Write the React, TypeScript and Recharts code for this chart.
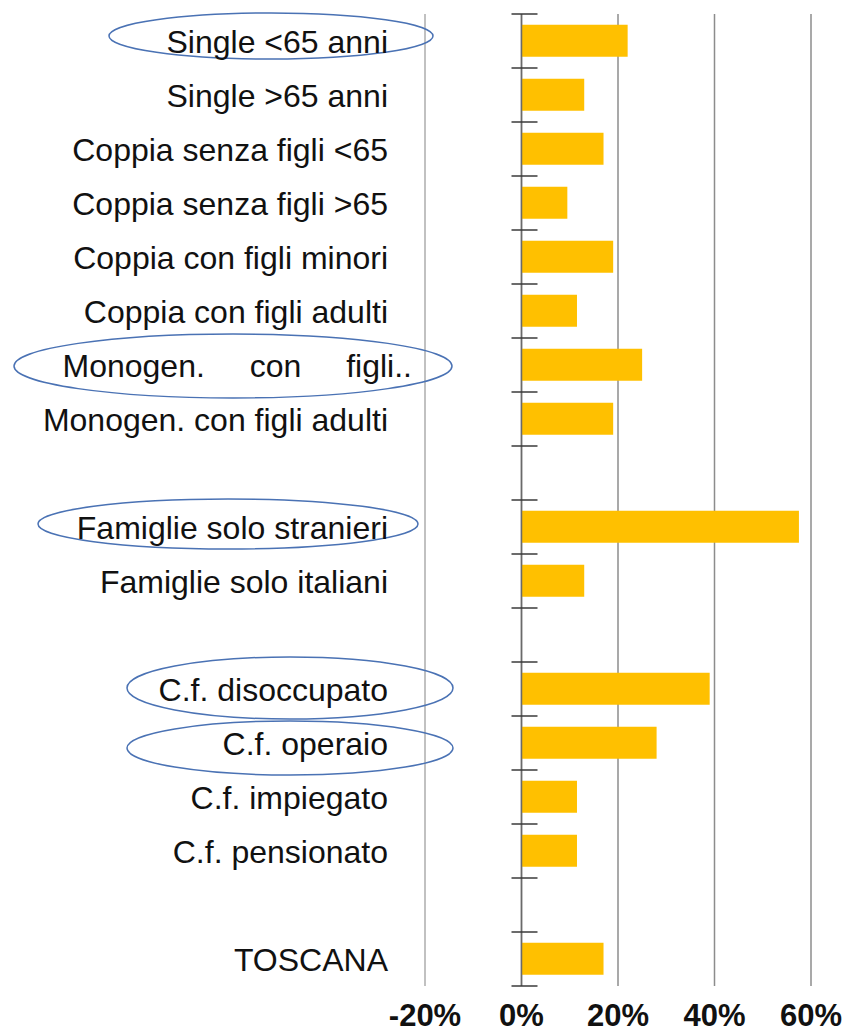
import React from 'react';
import { BarChart, Bar, XAxis, YAxis, CartesianGrid, ReferenceLine } from 'recharts';

// blank names are the spacer rows between groups
const categories = [
  'Single <65 anni',
  'Single >65 anni',
  'Coppia senza figli <65',
  'Coppia senza figli >65',
  'Coppia con figli minori',
  'Coppia con figli adulti',
  'Monogen. con figli..',
  'Monogen. con figli adulti',
  '',
  'Famiglie solo stranieri',
  'Famiglie solo italiani',
  '',
  'C.f. disoccupato',
  'C.f. operaio',
  'C.f. impiegato',
  'C.f. pensionato',
  '',
  'TOSCANA',
];
const values = [22, 13, 17, 9.5, 19, 11.5, 25, 19, null, 57.5, 13, null, 39, 28, 11.5, 11.5, null, 17];
const xTicks = [-20, 0, 20, 40, 60];

const rows = categories.map((name, i) => ({ name, value: values[i] }));

// blue rings drawn around some labels (offsets from the label anchor)
const circled: Record<string, { dx: number; dy: number; rx: number; ry: number }> = {
  'Single <65 anni': { dx: -117, dy: -5, rx: 162, ry: 23 },
  'Monogen. con figli..': { dx: -155, dy: 1, rx: 219, ry: 32 },
  'Famiglie solo stranieri': { dx: -160, dy: -3, rx: 190, ry: 25 },
  'C.f. disoccupato': { dx: -98, dy: -1, rx: 163, ry: 31 },
  'C.f. operaio': { dx: -98, dy: 5, rx: 163, ry: 27 },
};

const font = '"Liberation Sans", Arial, sans-serif';

function CategoryTick(props: any) {
  const { x, y, payload } = props;
  const label: string = payload.value;
  const ring = circled[label];
  const spread = label === 'Monogen. con figli..';
  return (
    <g>
      {ring && (
        <ellipse cx={x + ring.dx} cy={y + ring.dy} rx={ring.rx} ry={ring.ry}
          fill="none" stroke="#4a72b4" strokeWidth={1.5} />
      )}
      <text x={spread ? x + 24 : x} y={y} dy="0.36em" textAnchor="end" fill="#111"
        fontSize={32} fontFamily={font} style={spread ? { wordSpacing: 36 } : undefined}>
        {label}
      </text>
    </g>
  );
}

function ZeroAxis(props: any) {
  const { x1, y1, y2 } = props;
  const n = categories.length;
  const step = (y2 - y1) / n;
  return (
    <g>
      <line x1={x1} x2={x1} y1={y1} y2={y2} stroke="#6a6a6a" strokeWidth={1.5} />
      {Array.from({ length: n + 1 }, (_, i) => (
        <line key={i} x1={x1 - 10} x2={x1 + 16} y1={y1 + i * step} y2={y1 + i * step}
          stroke="#3a3a3a" strokeWidth={1.5} />
      ))}
    </g>
  );
}

export default function App() {
  return (
    <div style={{ position: 'absolute', left: 0, top: 0, background: '#fff' }}>
      <BarChart width={847} height={1035} data={rows} layout="vertical"
        margin={{ top: 14, right: 36, bottom: 0, left: 0 }} barCategoryGap="20%">
        <CartesianGrid horizontal={false} stroke="#8c8c8c" strokeWidth={1.5} />
        <XAxis type="number" domain={[-20, 60]} ticks={xTicks} height={49}
          axisLine={false} tickLine={false} tickSize={0} tickMargin={18}
          tickFormatter={(v: number) => `${v}%`} interval={0}
          tick={{ fill: '#111', fontSize: 31, fontWeight: 'bold', fontFamily: font }} />
        <YAxis type="category" dataKey="name" width={425} axisLine={false} tickLine={false}
          tickSize={0} tickMargin={37} interval={0} tick={<CategoryTick />} />
        <ReferenceLine x={-20} stroke="#cacaca" strokeWidth={1.5} />
        <Bar dataKey="value" fill="#FFC000" isAnimationActive={false} />
        <ReferenceLine x={0} shape={ZeroAxis} />
      </BarChart>
    </div>
  );
}
